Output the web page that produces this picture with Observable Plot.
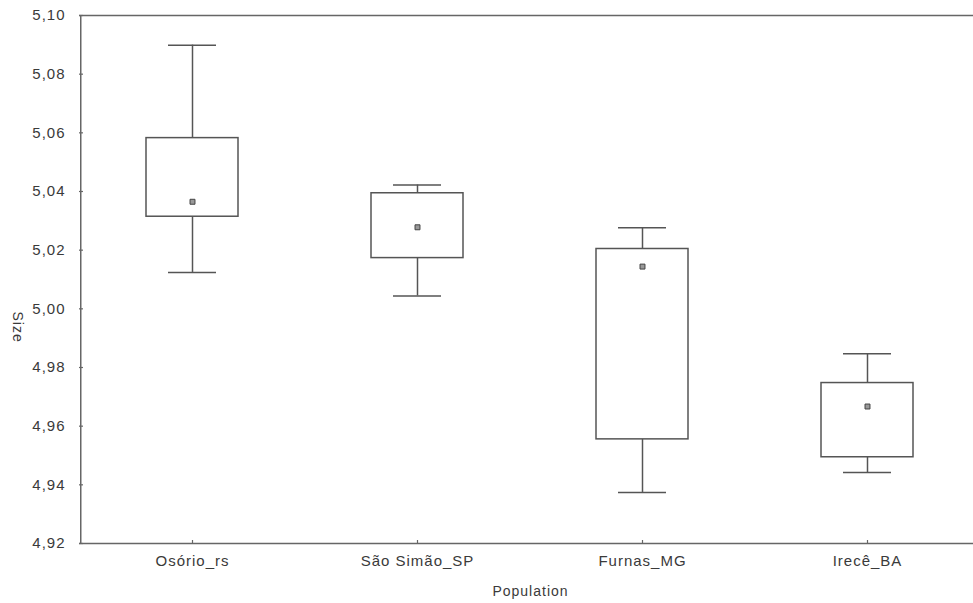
<!DOCTYPE html>
<html>
<head>
<meta charset="utf-8">
<script src="https://cdn.jsdelivr.net/npm/d3@7"></script>
<script src="https://cdn.jsdelivr.net/npm/@observablehq/plot@0.6"></script>
<style>
  html, body { margin: 0; padding: 0; background: #fff; }
</style>
</head>
<body>
<div id="chart"></div>
<script>
// Data
const populations = ["Osório_rs", "São Simão_SP", "Furnas_MG", "Irecê_BA"];
const maxValues    = [5.0899, 5.0422, 5.0276, 4.9847];
const q3Values     = [5.0582, 5.0394, 5.0204, 4.9747];
const medianValues = [5.0365, 5.0278, 5.0144, 4.9667];
const q1Values     = [5.0314, 5.0173, 4.9555, 4.9494];
const minValues    = [5.0124, 5.0044, 4.9374, 4.9442];
const yTicks = [4.92, 4.94, 4.96, 4.98, 5.00, 5.02, 5.04, 5.06, 5.08, 5.10];
const xLabel = "Population";
const yLabel = "Size";

const rows = populations.map((p, i) => ({
  pop: p, max: maxValues[i], q3: q3Values[i], median: medianValues[i],
  q1: q1Values[i], min: minValues[i]
}));

const ink = "#555";
const txt = "#3a3a3a";

const chart = Plot.plot({
  width: 973,
  height: 603,
  marginLeft: 79,
  marginTop: 15,
  marginBottom: 60,
  marginRight: 0,
  style: {
    fontFamily: "'Liberation Sans', Arial, sans-serif",
    fontSize: "15px",
    color: txt,
    background: "#fff",
    letterSpacing: "1px"
  },
  x: {
    type: "band",
    domain: populations,
    range: [78, 980],
    paddingInner: 0.592,
    paddingOuter: 0.296,
    label: null
  },
  y: {
    domain: [4.92, 5.10],
    label: null
  },
  marks: [
    // frame: top, bottom and left edges (right edge falls off the page)
    Plot.ruleY([yTicks[yTicks.length - 1], yTicks[0]], {stroke: "#666", strokeWidth: 1.5}),
    Plot.ruleX([populations[0]], {dx: -111.75, stroke: "#666", strokeWidth: 1.5}),
    // inward ticks
    Plot.ruleY(yTicks, {stroke: "#666", strokeWidth: 1.2, insetRight: 890}),
    Plot.ruleX(populations, {stroke: "#666", strokeWidth: 1.2, insetTop: 525}),
    Plot.axisY({ticks: yTicks, tickSize: 0, tickPadding: 14,
      tickFormat: d => d.toFixed(2).replace(".", ","), label: null, fill: txt}),
    Plot.axisX({tickSize: 0, tickPadding: 12, label: null, fill: txt}),
    // whiskers
    Plot.ruleX(rows, {x: "pop", y1: "q3", y2: "max", stroke: ink, strokeWidth: 1.5}),
    Plot.ruleX(rows, {x: "pop", y1: "min", y2: "q1", stroke: ink, strokeWidth: 1.5}),
    // caps
    Plot.tickY(rows, {x: "pop", y: "max", stroke: ink, strokeWidth: 1.5, insetLeft: 22, insetRight: 22}),
    Plot.tickY(rows, {x: "pop", y: "min", stroke: ink, strokeWidth: 1.5, insetLeft: 22, insetRight: 22}),
    // boxes
    Plot.barY(rows, {x: "pop", y1: "q1", y2: "q3", fill: "#fff", stroke: ink, strokeWidth: 1.5}),
    // median markers
    Plot.dot(rows, {x: "pop", y: "median", symbol: "square", r: 2.8, fill: "#999", stroke: "#444", strokeWidth: 1}),
    // axis titles
    Plot.text([xLabel], {frameAnchor: "bottom", dx: 4, dy: 48, lineAnchor: "middle", fill: txt, fontSize: 14}),
    Plot.text([yLabel], {frameAnchor: "left", rotate: 90, dx: -62, dy: 32, fill: txt, fontSize: 14})
  ]
});

document.getElementById("chart").appendChild(chart);
</script>
</body>
</html>
